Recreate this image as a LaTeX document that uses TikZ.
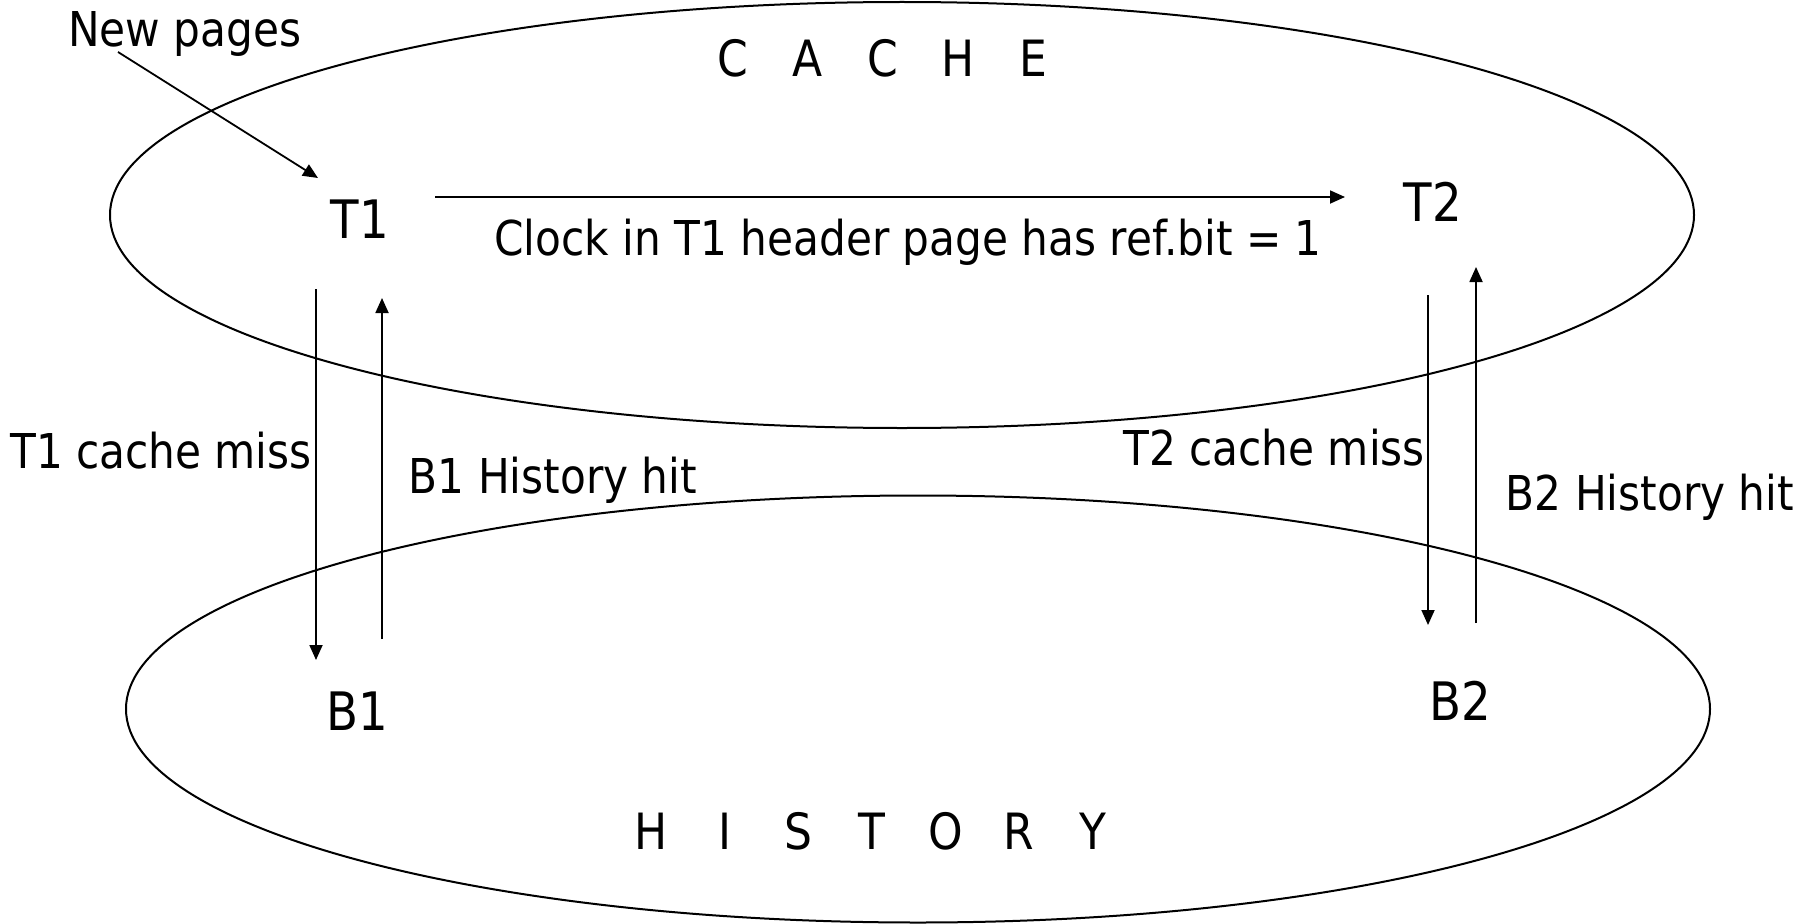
\documentclass[tikz,border=0pt]{standalone}
\usepackage{fontspec}
\setmainfont[FakeStretch=0.88]{DejaVu Sans}
\usetikzlibrary{arrows.meta}
% letters set on a fixed pitch
\newcommand\pitched[2]{\def\pitchlen{#1}\pitchedloop#2\relax}
\def\pitchedloop#1{\ifx#1\relax\else\makebox[\pitchlen]{#1}\expandafter\pitchedloop\fi}
\begin{document}
\begin{tikzpicture}[x=1pt,y=-1pt,inner sep=0pt,outer sep=0pt,
  lbl/.style={font=\fontsize{48}{58}\selectfont,anchor=base},
  lst/.style={font=\fontsize{53}{64}\selectfont,anchor=base},
  ttl/.style={font=\fontsize{50}{60}\selectfont,anchor=base},
  ring/.style={draw,line width=2pt},
  flow/.style={draw,line width=1.8pt,-{Triangle[length=15pt,width=13pt]}}]
\useasboundingbox (0,0) rectangle (1811,923);

% the two pools
\draw[ring] (902,215) ellipse [x radius=792,y radius=213];
\draw[ring] (918,709) ellipse [x radius=792,y radius=213.5];

% titles
\node[ttl] (cache) at (883,77) {\pitched{75pt}{CACHE}};
\node[ttl] (history) at (872,849) {\pitched{73.5pt}{HISTORY}};

% lists
\node[lst] (t1) at (360,238) {T1};
\node[lst] (t2) at (1433,221) {T2};
\node[lst] (b1) at (357,730) {B1};
\node[lst] (b2) at (1460,720) {B2};

% labels
\node[lbl,anchor=base west] (newp) at (68,47) {New pages};
\node[lbl] (clock) at (908,255) {Clock in T1 header page has ref.bit = 1};
\node[lbl] (t1miss) at (161,468) {T1 cache miss};
\node[lbl] (b1hit) at (553,493) {B1 History hit};
\node[lbl] (t2miss) at (1274,465) {T2 cache miss};
\node[lbl] (b2hit) at (1650,510) {B2 History hit};

% arrow end points
\coordinate (newS) at (118,52);
\coordinate (newE) at (318,178);
\coordinate (clkS) at (435,197);
\coordinate (clkE) at (1345,197);
\coordinate (t1dS) at (316,289);
\coordinate (t1dE) at (316,660);
\coordinate (b1uS) at (382,639);
\coordinate (b1uE) at (382,298);
\coordinate (t2dS) at (1428,295);
\coordinate (t2dE) at (1428,625);
\coordinate (b2uS) at (1476,623);
\coordinate (b2uE) at (1476,267);

% moves between the lists
\draw[flow] (newS) -- (newE);
\draw[flow] (clkS) -- (clkE);
\draw[flow] (t1dS) -- (t1dE);
\draw[flow] (b1uS) -- (b1uE);
\draw[flow] (t2dS) -- (t2dE);
\draw[flow] (b2uS) -- (b2uE);
\end{tikzpicture}
\end{document}
